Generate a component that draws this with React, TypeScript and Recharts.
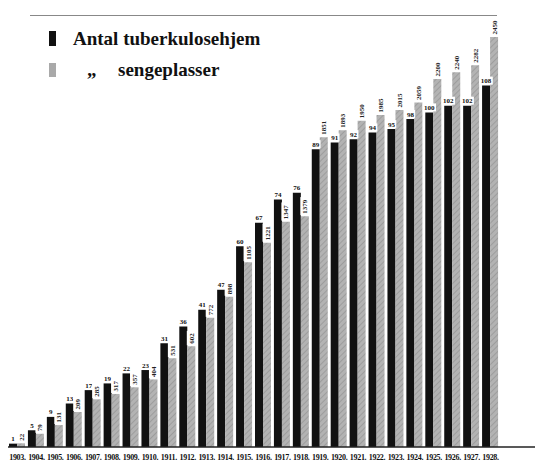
import React from "react";
import { BarChart, Bar, XAxis, YAxis, LabelList } from "recharts";

const years = [
  "1903", "1904", "1905", "1906", "1907", "1908", "1909", "1910", "1911",
  "1912", "1913", "1914", "1915", "1916", "1917", "1918", "1919", "1920",
  "1921", "1922", "1923", "1924", "1925", "1926", "1927", "1928",
];
// antal tuberkulosehjem
const hjem = [1, 5, 9, 13, 17, 19, 22, 23, 31, 36, 41, 47, 60, 67, 74, 76, 89, 91, 92, 94, 95, 98, 100, 102, 102, 108];
// antal sengeplasser
const senger = [22, 79, 131, 209, 285, 317, 357, 404, 531, 602, 772, 898, 1105, 1221, 1347, 1379, 1851, 1893, 1950, 1985, 2015, 2059, 2200, 2240, 2282, 2450];

const data = years.map((y, i) => ({ year: y, hjem: hjem[i], senger: senger[i] }));

const serif = "'Liberation Serif', 'DejaVu Serif', serif";

function HjemLabel(props: any) {
  const { x, y, width, value } = props;
  const s = String(value);
  const w = s.length * 3.8 + 2;
  const cx = x + width / 2;
  return (
    <g>
      <rect x={cx - w / 2} y={y - 9} width={w} height={8} fill="#fff" />
      <text x={cx} y={y - 2.5} textAnchor="middle" fontSize={7} fontWeight="bold" fontFamily={serif} fill="#111">
        {s}
      </text>
    </g>
  );
}

function SengLabel(props: any) {
  const { x, y, width, value } = props;
  const s = String(value);
  const w = s.length * 3.8 + 3;
  const cx = x + width / 2;
  return (
    <g transform={`translate(${cx},${y - 1}) rotate(-90)`}>
      <rect x={0} y={-4.5} width={w} height={9} fill="#fff" />
      <text x={1.5} y={2.5} fontSize={7} fontWeight="bold" fontFamily={serif} fill="#222">
        {s}
      </text>
    </g>
  );
}

function ChartLegend() {
  const row: React.CSSProperties = { display: "flex", alignItems: "center", height: 31 };
  const txt: React.CSSProperties = { fontFamily: serif, fontWeight: "bold", fontSize: 19, color: "#111" };
  return (
    <div style={{ position: "absolute", left: 49, top: 23 }}>
      <div style={row}>
        <span style={{ width: 7, height: 15, background: "#111", display: "inline-block", marginRight: 17 }} />
        <span style={txt}>Antal tuberkulosehjem</span>
      </div>
      <div style={row}>
        <span style={{ width: 7, height: 14, background: "#a9a9a9", display: "inline-block", marginRight: 31 }} />
        <span style={{ ...txt, width: 31 }}>„</span>
        <span style={txt}>sengeplasser</span>
      </div>
    </div>
  );
}

export default function App() {
  return (
    <div style={{ position: "absolute", left: 0, top: 0, width: 540, height: 462, background: "#fff" }}>
      <div style={{ position: "absolute", left: 30, top: 15, width: 467, borderTop: "1px solid #888" }} />
      <BarChart
        width={540}
        height={462}
        data={data}
        margin={{ top: 12, right: 5, left: 8, bottom: 0 }}
        barGap={0}
      >
        <defs>
          <pattern id="hatch" width="4" height="4" patternUnits="userSpaceOnUse" patternTransform="rotate(45)">
            <rect width="4" height="4" fill="#b3b3b3" />
            <line x1="0" y1="0" x2="0" y2="4" stroke="#8e8e8e" strokeWidth="1.2" />
          </pattern>
        </defs>
        <XAxis
          dataKey="year"
          height={15}
          padding={{ left: 0, right: 35 }}
          tickLine={false}
          axisLine={{ stroke: "#222", strokeWidth: 1.5 }}
          interval={0}
          tickFormatter={(v) => `${v}.`}
          tick={{ fontSize: 8, fontWeight: "bold", fontFamily: serif, fill: "#111", letterSpacing: -0.3 }}
          tickMargin={1}
        />
        <YAxis yAxisId="h" hide domain={[0, 130]} />
        <YAxis yAxisId="s" orientation="right" hide domain={[0, 2600]} />
        <Bar yAxisId="h" dataKey="hjem" fill="#111" barSize={8} isAnimationActive={false}>
          <LabelList dataKey="hjem" content={HjemLabel} />
        </Bar>
        <Bar yAxisId="s" dataKey="senger" fill="url(#hatch)" barSize={8} isAnimationActive={false}>
          <LabelList dataKey="senger" content={SengLabel} />
        </Bar>
      </BarChart>
      <ChartLegend />
    </div>
  );
}
